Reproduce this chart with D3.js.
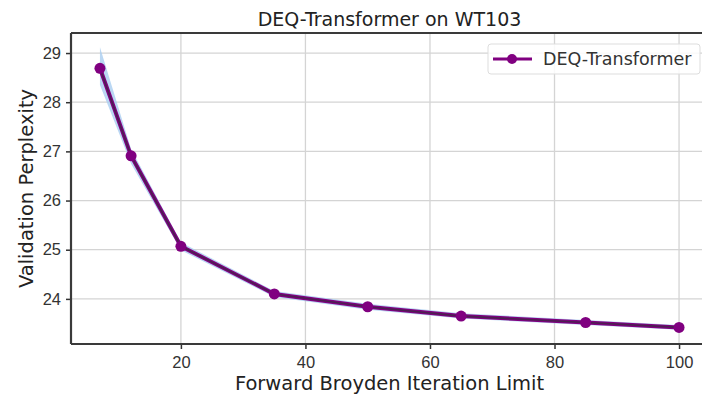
<!DOCTYPE html>
<html>
<head>
<meta charset="utf-8">
<script src="https://cdn.jsdelivr.net/npm/d3@7"></script>
<style>
  body { margin: 0; background: #fff; }
  svg { font-family: "DejaVu Sans", sans-serif; display: block; }
  .grid line { stroke: #d4d4d4; stroke-width: 1.3; }
  .axis text { fill: #333; font-size: 16.5px; }
  .axis line { stroke: #333; stroke-width: 1.5; }
  .axis path { display: none; }
</style>
</head>
<body>
<div class="graph"></div>
<script>
// data
const iterLimit = [7, 12, 20, 35, 50, 65, 85, 100];
const perplexity = [28.69, 26.91, 25.07, 24.10, 23.84, 23.65, 23.52, 23.42];
const bandUpper = [29.12, 27.05, 25.15, 24.16, 23.90, 23.71, 23.57, 23.47];
const bandLower = [28.35, 26.75, 24.99, 24.04, 23.78, 23.60, 23.47, 23.37];
const xTicks = [20, 40, 60, 80, 100];
const yTicks = [24, 25, 26, 27, 28, 29];
const seriesName = "DEQ-Transformer";

const W = 702, H = 396;
const margin = {top: 33, left: 71},
  width = 708 - margin.left,
  height = 344 - margin.top;

const svg = d3.select(".graph").append("svg")
  .attr("width", W)
  .attr("height", H);

// matplotlib style 5% margins
const xExt = d3.extent(iterLimit);
const xPad = (xExt[1] - xExt[0]) * 0.05;
const yLo = d3.min(bandLower), yHi = d3.max(bandUpper);
const yPad = (yHi - yLo) * 0.05;

const x = d3.scaleLinear().domain([xExt[0] - xPad, xExt[1] + xPad]).range([0, width]);
const y = d3.scaleLinear().domain([yLo - yPad, yHi + yPad]).range([height, 0]);

const g = svg.append("g")
  .attr("transform", "translate(" + margin.left + "," + margin.top + ")");

// grid
g.append("g").attr("class", "grid")
  .selectAll("line").data(xTicks).enter().append("line")
    .attr("x1", d => x(d)).attr("x2", d => x(d))
    .attr("y1", 0).attr("y2", height);
g.append("g").attr("class", "grid")
  .selectAll("line").data(yTicks).enter().append("line")
    .attr("y1", d => y(d)).attr("y2", d => y(d))
    .attr("x1", 0).attr("x2", width);

// band
const rows = iterLimit.map((v, i) => ({x: v, y: perplexity[i], lo: bandLower[i], hi: bandUpper[i]}));
g.append("path")
  .datum(rows)
  .attr("fill", "#a9cdf0")
  .attr("opacity", 0.8)
  .attr("d", d3.area().x(d => x(d.x)).y0(d => y(d.lo)).y1(d => y(d.hi)));

// line + markers
g.append("path")
  .datum(rows)
  .attr("fill", "none")
  .attr("stroke", "#800080")
  .attr("stroke-width", 4)
  .attr("d", d3.line().x(d => x(d.x)).y(d => y(d.y)));
g.append("path")
  .datum(rows)
  .attr("fill", "none")
  .attr("stroke", "#4b2050")
  .attr("stroke-width", 1.6)
  .attr("d", d3.line().x(d => x(d.x)).y(d => y(d.y)));
g.selectAll(".dot").data(rows).enter().append("circle")
  .attr("class", "dot")
  .attr("cx", d => x(d.x)).attr("cy", d => y(d.y))
  .attr("r", 5.5)
  .attr("fill", "#800080");

// axes
g.append("g").attr("class", "axis")
  .attr("transform", "translate(0," + height + ")")
  .call(d3.axisBottom(x).tickValues(xTicks).tickFormat(d3.format("d")).tickSize(5).tickPadding(7));
g.append("g").attr("class", "axis")
  .call(d3.axisLeft(y).tickValues(yTicks).tickFormat(d3.format("d")).tickSize(5).tickPadding(5));

// spines
g.append("line").attr("x1", 0).attr("x2", 0).attr("y1", 0).attr("y2", height)
  .attr("stroke", "#3a3a3a").attr("stroke-width", 2.2);
g.append("line").attr("x1", 0).attr("x2", width).attr("y1", height).attr("y2", height)
  .attr("stroke", "#3a3a3a").attr("stroke-width", 2.2);
g.append("line").attr("x1", 0).attr("x2", width).attr("y1", 0).attr("y2", 0)
  .attr("stroke", "#3a3a3a").attr("stroke-width", 2.2);

// title & labels
svg.append("text")
  .attr("x", margin.left + width / 2).attr("y", 26)
  .attr("text-anchor", "middle")
  .attr("font-size", 19).attr("fill", "#222")
  .text("DEQ-Transformer on WT103");
svg.append("text")
  .attr("x", margin.left + width / 2).attr("y", 390)
  .attr("text-anchor", "middle")
  .attr("font-size", 19.5).attr("fill", "#222")
  .text("Forward Broyden Iteration Limit");
svg.append("text")
  .attr("transform", "translate(33," + (margin.top + height / 2) + ") rotate(-90)")
  .attr("text-anchor", "middle")
  .attr("font-size", 19.5).attr("fill", "#222")
  .text("Validation Perplexity");

// legend
const leg = svg.append("g").attr("transform", "translate(488,44)");
leg.append("rect")
  .attr("width", 212).attr("height", 30).attr("rx", 3)
  .attr("fill", "#fff").attr("fill-opacity", 0.85)
  .attr("stroke", "#ddd");
leg.append("line").attr("x1", 5).attr("x2", 44).attr("y1", 15).attr("y2", 15)
  .attr("stroke", "#800080").attr("stroke-width", 3);
leg.append("circle").attr("cx", 24).attr("cy", 15).attr("r", 5).attr("fill", "#800080");
leg.append("text").attr("x", 55).attr("y", 21)
  .attr("font-size", 17.5).attr("fill", "#333")
  .text(seriesName);
</script>
</body>
</html>
